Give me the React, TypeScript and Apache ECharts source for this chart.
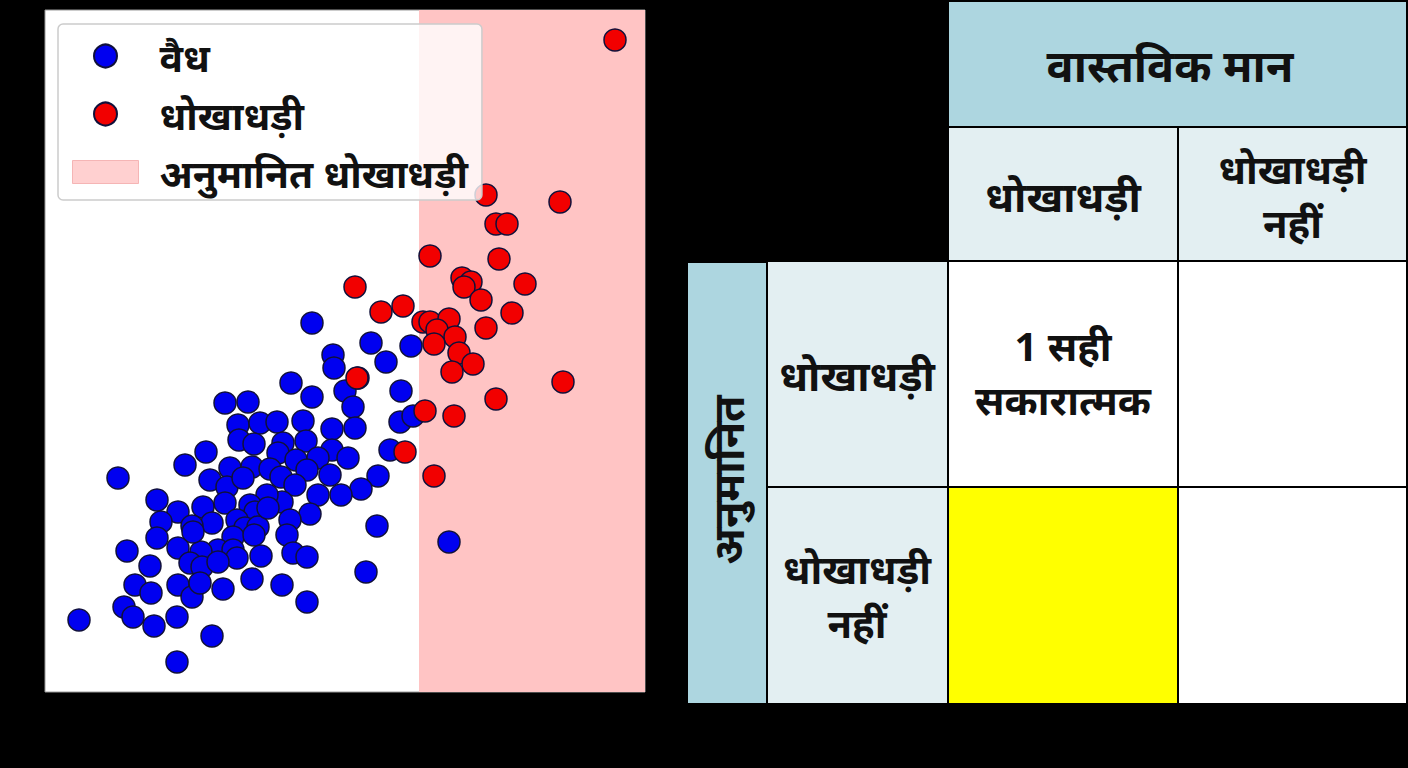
import React, { useEffect, useRef } from "react";
import * as echarts from "echarts";

const FONT = "'Noto Sans', 'Noto Sans Devanagari', 'Lohit Devanagari', 'FreeSans', sans-serif";

// ---------- data ----------
const seriesNames = ["वैध", "धोखाधड़ी", "अनुमानित धोखाधड़ी"];

const xRange = [0, 6];
const yRange = [0, 6.82];
const fraudThreshold = 3.74;

const legitPoints: [number, number][] = [
  [2.67, 3.69], [2.88, 3.37], [2.89, 3.24], [3.26, 3.49], [3.66, 3.46], [3.41, 3.30],
  [2.46, 3.09], [3.13, 3.14], [3.00, 3.01], [3.56, 3.01], [2.67, 2.95], [1.80, 2.89],
  [2.03, 2.90], [3.08, 2.85], [1.93, 2.67], [2.15, 2.69], [2.32, 2.70], [2.58, 2.71],
  [2.87, 2.63], [3.10, 2.64], [3.55, 2.70], [3.68, 2.76], [1.94, 2.52], [2.09, 2.48],
  [2.38, 2.49], [2.61, 2.51], [2.33, 2.39], [2.87, 2.42], [3.03, 2.34], [2.51, 2.32],
  [2.73, 2.34], [3.45, 2.42], [1.61, 2.40], [1.40, 2.27], [1.85, 2.24], [2.07, 2.25],
  [2.25, 2.23], [2.36, 2.15], [2.62, 2.22], [2.50, 2.07], [2.85, 2.17], [3.33, 2.16],
  [1.65, 2.12], [0.73, 2.14], [1.82, 2.05], [3.16, 2.03], [2.96, 1.97], [2.73, 1.97],
  [2.37, 1.90], [2.22, 1.97], [1.12, 1.92], [1.58, 1.85], [1.80, 1.89], [2.05, 1.87],
  [1.33, 1.80], [2.65, 1.78], [1.16, 1.70], [1.67, 1.69], [1.47, 1.66], [3.32, 1.66],
  [2.45, 1.72], [2.10, 1.80], [1.92, 1.72], [2.00, 1.64], [2.13, 1.65], [1.88, 1.55],
  [2.09, 1.57], [2.42, 1.57], [1.12, 1.54], [1.73, 1.42], [1.88, 1.42], [0.82, 1.41],
  [1.33, 1.44], [1.56, 1.40], [1.45, 1.29], [1.57, 1.25], [1.05, 1.26], [2.16, 1.36],
  [2.48, 1.39], [2.62, 1.35], [0.90, 1.07], [1.06, 0.99], [1.33, 1.07], [1.47, 0.95],
  [1.55, 1.09], [1.78, 1.03], [2.07, 1.13], [2.37, 1.07], [2.62, 0.90], [0.79, 0.85],
  [0.88, 0.75], [1.09, 0.66], [1.32, 0.75], [0.34, 0.72], [1.67, 0.56], [1.32, 0.30],
  [4.04, 1.50], [3.21, 1.20], [1.98, 2.14], [1.48, 1.60], [1.92, 1.34], [1.73, 1.30],
  [2.23, 1.84],
];

const fraudPoints: [number, number][] = [
  [5.70, 6.52], [4.41, 4.97], [5.15, 4.90], [4.51, 4.68], [4.62, 4.68], [3.85, 4.36],
  [4.54, 4.33], [4.17, 4.14], [4.26, 4.10], [4.19, 4.05], [4.80, 4.08], [3.10, 4.05],
  [4.36, 3.92], [3.58, 3.86], [3.36, 3.80], [4.67, 3.79], [3.78, 3.70], [3.85, 3.70],
  [4.04, 3.73], [3.92, 3.62], [4.41, 3.64], [4.10, 3.55], [3.89, 3.48], [4.14, 3.39],
  [4.28, 3.28], [4.07, 3.20], [5.18, 3.10], [3.12, 3.14], [4.51, 2.93], [3.80, 2.81],
  [4.09, 2.76], [3.60, 2.40], [3.89, 2.16],
];

const actualHeader = "वास्तविक मान";
const predictedHeader = "अनुमानित";
const classLabels = ["धोखाधड़ी", "धोखाधड़ी\nनहीं"];
const cellTexts = [
  ["1 सही\nसकारात्मक", ""],
  ["", ""],
];
const highlightedCell = [1, 0];

// ---------- styles / layout ----------
const HEADER_BLUE = "#add6e0";
const LIGHT_BLUE = "#e3eff2";
const PINK = "#ffc4c4";

const colX = [949, 1179];
const colW = [228, 227];
const rowY = [262, 488];
const rowH = [224, 215];

function buildTable(): any[] {
  const els: any[] = [];
  const rect = (x: number, y: number, w: number, h: number, fill: string) => ({
    type: "rect",
    shape: { x, y, width: w, height: h },
    style: { fill },
    silent: true,
  });
  const text = (x: number, y: number, t: string, size: number, rotation = 0) => ({
    type: "text",
    x,
    y,
    rotation,
    style: {
      text: t,
      fill: "#111",
      font: `bold ${size}px ${FONT}`,
      align: "center",
      verticalAlign: "middle",
      lineHeight: Math.round(size * 1.35),
    },
    silent: true,
  });
  // actual header
  els.push(rect(949, 2, 457, 124, HEADER_BLUE));
  els.push(text(1170, 64, actualHeader, 45));
  // column labels
  for (let c = 0; c < 2; c++) {
    els.push(rect(colX[c], 128, colW[c], 132, LIGHT_BLUE));
    els.push(text(colX[c] + colW[c] / 2, 195, classLabels[c], c === 0 ? 42 : 40));
  }
  // predicted header (rotated)
  els.push(rect(688, 263, 78, 440, HEADER_BLUE));
  els.push(text(727, 480, predictedHeader, 43, Math.PI / 2));
  // row labels + cells
  for (let r = 0; r < 2; r++) {
    els.push(rect(768, rowY[r], 179, rowH[r], LIGHT_BLUE));
    els.push(text(857, rowY[r] + rowH[r] / 2, classLabels[r], r === 0 ? 42 : 40));
    for (let c = 0; c < 2; c++) {
      const hl = highlightedCell[0] === r && highlightedCell[1] === c;
      els.push(rect(colX[c], rowY[r], colW[c], rowH[r], hl ? "#ffff00" : "#ffffff"));
      if (cellTexts[r][c]) {
        els.push(text(colX[c] + colW[c] / 2, rowY[r] + rowH[r] / 2 - 2, cellTexts[r][c], 40));
      }
    }
  }
  return els;
}

export default function App() {
  const ref = useRef<HTMLDivElement>(null);
  useEffect(() => {
    if (!ref.current) return;
    const chart = echarts.init(ref.current, undefined, { renderer: "svg" });
    const pointStyle = (color: string) => ({
      color,
      borderColor: "#10103a",
      borderWidth: 1.5,
      opacity: 1,
    });
    chart.setOption({
      animation: false,
      backgroundColor: "#000",
      textStyle: { fontFamily: FONT },
      grid: {
        left: 45,
        top: 10,
        width: 600,
        height: 682,
        show: true,
        backgroundColor: "#ffffff",
        borderColor: "#9a9a9a",
        borderWidth: 1,
      },
      xAxis: { type: "value", min: xRange[0], max: xRange[1], show: false },
      yAxis: { type: "value", min: yRange[0], max: yRange[1], show: false },
      legend: {
        orient: "vertical",
        left: 58,
        top: 24,
        padding: [10, 14, 6, 14],
        itemGap: 14,
        itemWidth: 66,
        itemHeight: 23,
        backgroundColor: "rgba(255,255,255,0.8)",
        borderColor: "#cccccc",
        borderWidth: 1.5,
        borderRadius: 5,
        z: 10,
        textStyle: {
          fontSize: 39,
          fontWeight: "bold",
          color: "#111",
          fontFamily: FONT,
          lineHeight: 44,
          padding: [0, 0, 0, 16],
        },
        data: [
          { name: seriesNames[0], icon: "circle" },
          { name: seriesNames[1], icon: "circle" },
          { name: seriesNames[2], icon: "rect", itemStyle: { color: PINK, borderColor: "#f2a8a8", borderWidth: 1 } },
        ],
      },
      series: [
        {
          name: seriesNames[2],
          type: "scatter",
          data: [],
          z: 1,
          itemStyle: { color: PINK },
          markArea: {
            silent: true,
            itemStyle: { color: PINK, opacity: 1 },
            data: [[{ xAxis: fraudThreshold, yAxis: yRange[0] }, { xAxis: xRange[1], yAxis: yRange[1] }]],
          },
        },
        {
          name: seriesNames[0],
          type: "scatter",
          data: legitPoints,
          symbolSize: 22,
          z: 3,
          itemStyle: pointStyle("#0000f0"),
        },
        {
          name: seriesNames[1],
          type: "scatter",
          data: fraudPoints,
          symbolSize: 22,
          z: 4,
          itemStyle: pointStyle("#f20000"),
        },
      ],
      graphic: buildTable(),
    });
    return () => chart.dispose();
  }, []);
  return (
    <div
      ref={ref}
      style={{ position: "fixed", left: 0, top: 0, width: 1408, height: 768, background: "#000" }}
    />
  );
}
